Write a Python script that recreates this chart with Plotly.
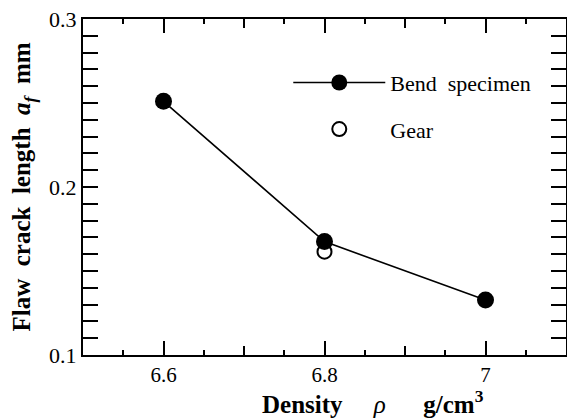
import plotly.graph_objects as go

density_bend = [6.6, 6.8, 7.0]
crack_bend = [0.251, 0.1675, 0.1327]
density_gear = [6.8]
crack_gear = [0.1615]

FONT = "Liberation Serif"

fig = go.Figure()
fig.add_trace(go.Scatter(
    x=density_bend, y=crack_bend, mode="lines+markers", name="Bend  specimen",
    line=dict(color="black", width=1.6),
    marker=dict(symbol="circle", size=17, color="black"),
    legendgroup="a",
))
fig.add_trace(go.Scatter(
    x=density_gear, y=crack_gear, mode="markers", name="Gear",
    marker=dict(symbol="circle-open", size=14, color="black", line=dict(width=2, color="black")),
    legendgroup="b",
))
# helper axis for the medium 0.1 ticks
fig.add_trace(go.Scatter(x=[6.5, 7.1], y=[0.1, 0.1], xaxis="x2", mode="none",
                         showlegend=False, hoverinfo="skip"))

fig.update_layout(
    width=567, height=419,
    margin=dict(l=83, r=1, t=19, b=64, autoexpand=False),
    paper_bgcolor="white", plot_bgcolor="white",
    font=dict(family=FONT, color="black", size=22),
    showlegend=True,
    legend=dict(x=0.425, y=0.873, xanchor="left", yanchor="top",
                bgcolor="rgba(0,0,0,0)", font=dict(size=22, family=FONT),
                tracegroupgap=15, itemwidth=92),
    xaxis=dict(
        range=[6.5, 7.1], tickvals=[6.6, 6.8, 7.0], ticktext=["6.6", "6.8", "7"],
        ticks="inside", ticklen=14, tickwidth=2, tickcolor="black",
        showline=True, linewidth=2, linecolor="black", mirror="allticks",
        showgrid=False, zeroline=False, automargin=False,
        minor=dict(dtick=0.05, tick0=6.5, ticks="inside", ticklen=5, tickwidth=2, tickcolor="black", showgrid=False),
        tickfont=dict(size=21, family=FONT), ticklabelstandoff=0,
    ),
    xaxis2=dict(
        overlaying="x", range=[6.5, 7.1], tickvals=[6.7, 6.9], showticklabels=False,
        ticks="inside", ticklen=9, tickwidth=2, tickcolor="black", automargin=False,
        showline=False, mirror="allticks", showgrid=False, zeroline=False, side="bottom",
    ),
    yaxis=dict(
        range=[0.1, 0.3], tickvals=[0.1, 0.2, 0.3], ticktext=["0.1", "0.2", "0.3"],
        ticks="inside", ticklen=15, tickwidth=2, tickcolor="black",
        showline=True, linewidth=2, linecolor="black", mirror="allticks",
        showgrid=False, zeroline=False, automargin=False,
        minor=dict(dtick=0.01, tick0=0.1, ticks="inside", ticklen=11, tickwidth=2, tickcolor="black", showgrid=False),
        tickfont=dict(size=22, family=FONT),
        title=dict(text="<b>Flaw  crack  length  <i>a<sub>f</sub></i>  mm</b>", font=dict(size=25, family=FONT), standoff=11),
    ),
    annotations=[dict(
        text="<b>Density</b>     <i>ρ</i>      <b>g/cm<sup>3</sup></b>",
        xref="paper", yref="paper", x=0.60, y=-0.192, xanchor="center", yanchor="bottom",
        showarrow=False, font=dict(size=25, family=FONT),
    )],
)

fig.write_html("out.html")
